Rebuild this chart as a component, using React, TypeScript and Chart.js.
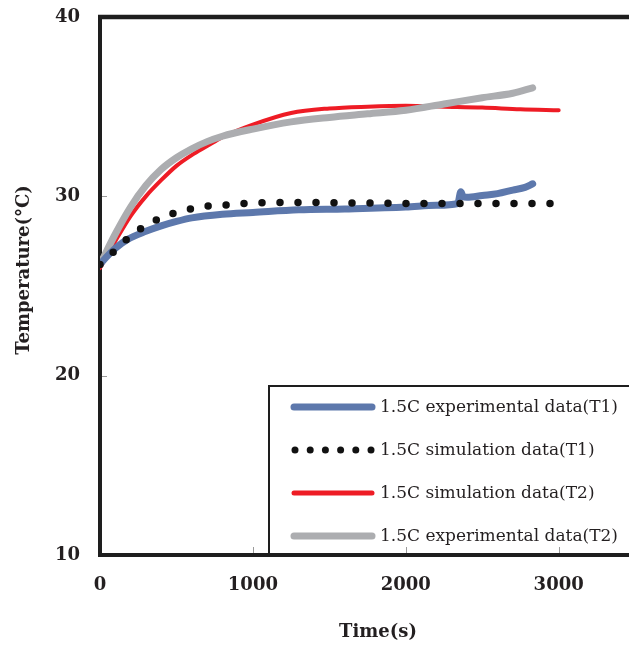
import React, { useEffect, useRef } from 'react';
import { Chart, registerables } from 'chart.js';

Chart.register(...registerables);

// ---- Data ----
const seriesLabels = [
  '1.5C experimental data(T1)',
  '1.5C simulation data(T1)',
  '1.5C simulation data(T2)',
  '1.5C experimental data(T2)',
];

const timeExpT1 = [0, 40, 100, 180, 300, 400, 500, 600, 800, 1000, 1300, 1600, 2000, 2200, 2340, 2360, 2375, 2400, 2500, 2600, 2700, 2780, 2830];
const tempExpT1 = [26.2, 26.6, 27.1, 27.6, 28.05, 28.35, 28.6, 28.8, 29.0, 29.1, 29.25, 29.3, 29.4, 29.5, 29.6, 30.25, 30.0, 29.95, 30.05, 30.15, 30.35, 30.5, 30.7];

const timeSimT1 = [0, 100, 160, 250, 350, 460, 570, 690, 810, 930, 1100, 1400, 1800, 2200, 2600, 3000];
const tempSimT1 = [26.2, 27.0, 27.5, 28.1, 28.6, 29.0, 29.25, 29.45, 29.5, 29.6, 29.65, 29.65, 29.62, 29.6, 29.6, 29.6];

const timeSimT2 = [0, 100, 200, 300, 400, 500, 600, 700, 800, 1000, 1250, 1500, 1750, 2000, 2250, 2500, 2750, 3000];
const tempSimT2 = [26.0, 27.5, 28.9, 30.0, 30.9, 31.7, 32.3, 32.8, 33.3, 34.0, 34.65, 34.9, 35.0, 35.05, 35.0, 34.95, 34.85, 34.8];

const timeExpT2 = [0, 100, 200, 300, 400, 500, 600, 700, 800, 1000, 1250, 1500, 1750, 2000, 2250, 2500, 2700, 2830];
const tempExpT2 = [26.2, 27.9, 29.4, 30.6, 31.5, 32.15, 32.65, 33.05, 33.35, 33.75, 34.15, 34.4, 34.6, 34.8, 35.15, 35.5, 35.75, 36.05];

const xTicks = [0, 1000, 2000, 3000];
const yTicks = [10, 20, 30, 40];
const xTitle = 'Time(s)';
const yTitle = 'Temperature(\u00B0C)';

const toPoints = (xs: number[], ys: number[]) => xs.map((x, i) => ({ x, y: ys[i] }));

const BLUE = '#5d78ac';
const RED = '#ee1c25';
const GRAY = '#acadb0';
const INK = '#231f20';
const FRAME = '#1e1e1e';

const decorPlugin = {
  id: 'decor',
  afterDraw(chart: any) {
    const { ctx, chartArea: ca, scales } = chart;
    const xs = scales.x;
    const ys = scales.y;
    ctx.save();

    // top frame line
    ctx.strokeStyle = FRAME;
    ctx.lineWidth = 4.5;
    ctx.beginPath();
    ctx.moveTo(ca.left - 2, ca.top);
    ctx.lineTo(ca.right, ca.top);
    ctx.stroke();

    // legend box
    const bx = 269;
    const by = 386;
    ctx.fillStyle = '#ffffff';
    ctx.fillRect(bx, by, ca.right - bx + 5, ca.bottom - by);
    ctx.strokeStyle = FRAME;
    ctx.lineWidth = 2;
    ctx.strokeRect(bx, by, ca.right - bx + 10, ca.bottom - by);

    const dsets = chart.data.datasets;
    dsets.forEach((ds: any, i: number) => {
      const ry = 407 + i * 43;
      if (ds.borderDash && ds.borderDash.length) {
        ctx.fillStyle = '#111';
        for (let k = 0; k < 6; k++) {
          ctx.beginPath();
          ctx.arc(295 + k * 15.2, ry, 3.5, 0, Math.PI * 2);
          ctx.fill();
        }
      } else {
        ctx.strokeStyle = ds.borderColor;
        ctx.lineWidth = ds.legendWidth;
        ctx.lineCap = 'round';
        ctx.beginPath();
        ctx.moveTo(294, ry);
        ctx.lineTo(372, ry);
        ctx.stroke();
      }
      ctx.fillStyle = INK;
      ctx.font = '17px "DejaVu Serif"';
      ctx.textAlign = 'left';
      ctx.textBaseline = 'middle';
      ctx.fillText(ds.label, 380, ry + 1);
    });

    // bottom axis redraw (legend box over it)
    ctx.strokeStyle = FRAME;
    ctx.lineWidth = 4;
    ctx.lineCap = 'butt';
    ctx.beginPath();
    ctx.moveTo(ca.left - 2, ca.bottom);
    ctx.lineTo(ca.right, ca.bottom);
    ctx.stroke();

    // small inward tick marks
    ctx.strokeStyle = '#9a9a9a';
    ctx.lineWidth = 1;
    yTicks.forEach((v) => {
      if (v === ys.min || v === ys.max) return;
      const py = Math.round(ys.getPixelForValue(v)) + 0.5;
      ctx.beginPath();
      ctx.moveTo(ca.left + 2, py);
      ctx.lineTo(ca.left + 7, py);
      ctx.stroke();
    });
    xTicks.forEach((v) => {
      if (v === xs.min) return;
      const px = Math.round(xs.getPixelForValue(v)) + 0.5;
      ctx.beginPath();
      ctx.moveTo(px, ca.bottom - 2);
      ctx.lineTo(px, ca.bottom - 8);
      ctx.stroke();
    });

    // axis titles
    ctx.fillStyle = INK;
    ctx.font = 'bold 18px "DejaVu Serif"';
    ctx.textAlign = 'center';
    ctx.textBaseline = 'middle';
    ctx.fillText(xTitle, 378, 632);
    ctx.translate(24, 270);
    ctx.rotate(-Math.PI / 2);
    ctx.fillText(yTitle, 0, 0);

    ctx.restore();
  },
};

export default function App() {
  const canvasRef = useRef<HTMLCanvasElement | null>(null);

  useEffect(() => {
    if (!canvasRef.current) return;
    const tickFont = { family: '"DejaVu Serif"', size: 18, weight: 'bold' as const };
    const chart = new Chart(canvasRef.current, {
      type: 'line',
      data: {
        datasets: [
          {
            label: seriesLabels[0],
            data: toPoints(timeExpT1, tempExpT1),
            borderColor: BLUE,
            borderWidth: 7,
            legendWidth: 7,
            order: 1,
          } as any,
          {
            label: seriesLabels[1],
            data: toPoints(timeSimT1, tempSimT1),
            borderColor: '#111111',
            borderWidth: 7.5,
            borderDash: [0, 18],
            order: 0,
          } as any,
          {
            label: seriesLabels[2],
            data: toPoints(timeSimT2, tempSimT2),
            borderColor: RED,
            borderWidth: 4,
            legendWidth: 5,
            order: 3,
          } as any,
          {
            label: seriesLabels[3],
            data: toPoints(timeExpT2, tempExpT2),
            borderColor: GRAY,
            borderWidth: 7,
            legendWidth: 7,
            order: 2,
          } as any,
        ],
      },
      options: {
        responsive: false,
        animation: false,
        layout: { padding: { top: 17, right: 0, left: 0, bottom: 0 } },
        elements: {
          point: { radius: 0, hoverRadius: 0 },
          line: {
            cubicInterpolationMode: 'monotone',
            borderCapStyle: 'round',
            borderJoinStyle: 'round',
            fill: false,
          },
        },
        plugins: {
          legend: { display: false },
          tooltip: { enabled: false },
          title: { display: false },
        },
        scales: {
          x: {
            type: 'linear',
            position: 'bottom',
            min: 0,
            max: 3460,
            afterBuildTicks: (s: any) => {
              s.ticks = xTicks.map((v) => ({ value: v }));
            },
            afterFit: (s: any) => {
              s.height = 97;
              s.paddingLeft = 0;
              s.paddingRight = 0;
            },
            grid: { display: false, drawTicks: false },
            border: { display: true, color: FRAME, width: 4 },
            ticks: {
              font: tickFont,
              color: INK,
              padding: 20,
              maxRotation: 0,
              autoSkip: false,
              callback: (v: any) => String(v),
            },
          },
          y: {
            type: 'linear',
            min: 10,
            max: 40,
            afterBuildTicks: (s: any) => {
              s.ticks = yTicks.map((v) => ({ value: v }));
            },
            afterFit: (s: any) => {
              s.width = 100;
              s.paddingTop = 0;
              s.paddingBottom = 0;
            },
            grid: { display: false, drawTicks: false },
            border: { display: true, color: FRAME, width: 4 },
            ticks: {
              font: tickFont,
              color: INK,
              padding: 20,
              callback: (v: any) => String(v),
            },
          },
        },
      } as any,
      plugins: [decorPlugin],
    });
    return () => chart.destroy();
  }, []);

  return (
    <div style={{ position: 'absolute', left: 0, top: 0, width: 629, height: 652, background: '#fff' }}>
      <canvas ref={canvasRef} width={629} height={652} style={{ display: 'block' }} />
    </div>
  );
}
